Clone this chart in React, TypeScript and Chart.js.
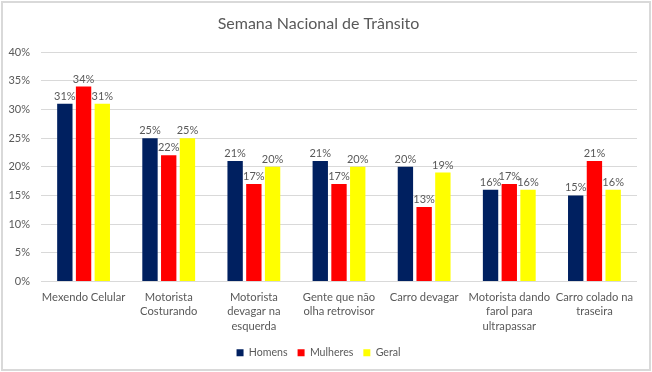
import React, { useEffect, useRef } from "react";
import { Chart, registerables } from "chart.js";

Chart.register(...registerables);

const categories: string[][] = [
  ["Mexendo Celular"],
  ["Motorista", "Costurando"],
  ["Motorista", "devagar na", "esquerda"],
  ["Gente que não", "olha retrovisor"],
  ["Carro devagar"],
  ["Motorista dando", "farol para", "ultrapassar"],
  ["Carro colado na", "traseira"],
];
const homens = [31, 25, 21, 21, 20, 16, 15];
const mulheres = [34, 22, 17, 17, 13, 17, 21];
const geral = [31, 25, 20, 20, 19, 16, 16];
const yTicks = [0, 5, 10, 15, 20, 25, 30, 35, 40];

const FONT = "Lato, 'Liberation Sans', sans-serif";
const TEXT = "#595959";

const bgPlugin = {
  id: "bg",
  beforeDraw(chart: any) {
    const { ctx, width, height } = chart;
    ctx.save();
    ctx.fillStyle = "#ffffff";
    ctx.fillRect(0, 0, width, height);
    ctx.strokeStyle = "#d9d9d9";
    ctx.lineWidth = 2;
    ctx.strokeRect(2, 2, width - 4, height - 4);
    ctx.restore();
  },
};

const labelPlugin = {
  id: "valueLabels",
  afterDatasetsDraw(chart: any) {
    const { ctx } = chart;
    ctx.save();
    ctx.font = `11px ${FONT}`;
    ctx.fillStyle = TEXT;
    ctx.textAlign = "center";
    ctx.textBaseline = "bottom";
    chart.data.datasets.forEach((ds: any, i: number) => {
      const meta = chart.getDatasetMeta(i);
      meta.data.forEach((el: any, j: number) => {
        ctx.fillText(ds.data[j] + "%", el.x, el.y - 2);
      });
    });
    ctx.restore();
  },
};

export default function App() {
  const ref = useRef<HTMLCanvasElement>(null);
  useEffect(() => {
    document.body.style.margin = "0";
    const chart = new Chart(ref.current!, {
      type: "bar",
      data: {
        labels: categories,
        datasets: [
          { label: "Homens", data: homens, backgroundColor: "#002060" },
          { label: "Mulheres", data: mulheres, backgroundColor: "#ff0000" },
          { label: "Geral", data: geral, backgroundColor: "#ffff00" },
        ],
      },
      options: {
        animation: false,
        responsive: false,
        layout: { padding: { top: 4, right: 15, bottom: 4, left: 0 } },
        datasets: { bar: { categoryPercentage: 0.66, barPercentage: 0.82 } },
        plugins: {
          title: {
            display: true,
            text: "Semana Nacional de Trânsito",
            color: TEXT,
            font: { family: FONT, size: 16, weight: "normal" },
            padding: { top: 10, bottom: 19 },
          },
          legend: {
            position: "bottom",
            labels: {
              boxWidth: 7,
              boxHeight: 7,
              color: TEXT,
              font: { family: FONT, size: 10.6 },
              padding: 10,
            },
          },
          tooltip: { enabled: false },
        },
        scales: {
          x: {
            grid: { display: false, drawTicks: false },
            border: { display: false },
            afterFit(scale: any) {
              scale.height = 56;
            },
            ticks: {
              color: TEXT,
              font: { family: FONT, size: 11.2, lineHeight: 1.27 },
              maxRotation: 0,
              autoSkip: false,
              padding: 9,
            },
          },
          y: {
            min: 0,
            max: 40,
            afterBuildTicks(scale: any) {
              scale.ticks = yTicks.map((v) => ({ value: v }));
            },
            afterFit(scale: any) {
              scale.width = 41;
            },
            grid: { color: "#d9d9d9", drawTicks: false },
            border: { display: false },
            ticks: {
              color: TEXT,
              font: { family: FONT, size: 11 },
              padding: 11,
              callback: (v: any) => v + "%",
            },
          },
        },
      },
      plugins: [bgPlugin, labelPlugin],
    });
    return () => chart.destroy();
  }, []);
  return <canvas ref={ref} width={652} height={372} style={{ display: "block" }} />;
}
